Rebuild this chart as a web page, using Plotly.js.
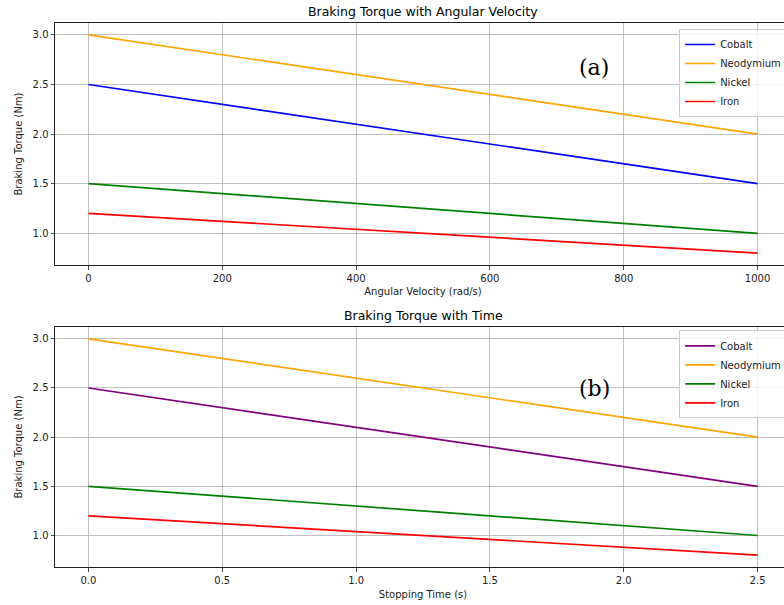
<!DOCTYPE html>
<html><head><meta charset="utf-8">
<script src="https://cdn.plot.ly/plotly-3.0.1.min.js"></script>
<style>html,body{margin:0;padding:0;overflow:hidden;background:#fff;}#chart{width:800px;height:605px;}</style>
</head><body><div id="chart"></div>
<script>
const angularVelocity = [0, 200, 400, 600, 800, 1000];
const stoppingTime = [0, 0.5, 1.0, 1.5, 2.0, 2.5];
const cobalt = [2.5, 2.3, 2.1, 1.9, 1.7, 1.5];
const neodymium = [3.0, 2.8, 2.6, 2.4, 2.2, 2.0];
const nickel = [1.5, 1.4, 1.3, 1.2, 1.1, 1.0];
const iron = [1.2, 1.12, 1.04, 0.96, 0.88, 0.8];
const seriesNames = ['Cobalt', 'Neodymium', 'Nickel', 'Iron'];
const topColors = ['#0000ff', '#ffa500', '#008000', '#ff0000'];
const bottomColors = ['#800080', '#ffa500', '#008000', '#ff0000'];
const seriesValues = [cobalt, neodymium, nickel, iron];

const FONT = 'DejaVu Sans, sans-serif';
const traces = [];
seriesValues.forEach((vals, i) => {
  traces.push({x: angularVelocity, y: vals, name: seriesNames[i], type: 'scatter', mode: 'lines',
    line: {color: topColors[i], width: 1.7}, xaxis: 'x', yaxis: 'y', legend: 'legend'});
});
seriesValues.forEach((vals, i) => {
  traces.push({x: stoppingTime, y: vals, name: seriesNames[i], type: 'scatter', mode: 'lines',
    line: {color: bottomColors[i], width: 1.7}, xaxis: 'x2', yaxis: 'y2', legend: 'legend2'});
});

const axCommon = {
  showline: true, linecolor: '#222', linewidth: 1, mirror: true,
  showgrid: true, gridcolor: '#b0b0b0', gridwidth: 0.8,
  ticks: 'outside', ticklen: 3.5, tickcolor: '#222', tickwidth: 0.8,
  zeroline: false, tickfont: {family: FONT, size: 10, color: '#222'}
};
const legendCommon = {
  xanchor: 'left', yanchor: 'top', bgcolor: 'rgba(255,255,255,0.8)',
  bordercolor: '#cccccc', borderwidth: 1, font: {family: FONT, size: 10, color: '#222'},
  itemwidth: 30, tracegroupgap: 0
};
const layout = {
  width: 800, height: 605,
  margin: {l: 55, r: 8.5, t: 23, b: 38},
  paper_bgcolor: '#fff', plot_bgcolor: '#fff',
  showlegend: true,
  font: {family: FONT, color: '#222'},
  xaxis: Object.assign({}, axCommon, {domain: [0, 1], range: [-50, 1050], tickvals: [0, 200, 400, 600, 800, 1000], anchor: 'y',
    title: {text: 'Angular Velocity (rad/s)', font: {family: FONT, size: 10, color: '#222'}, standoff: 5}}),
  yaxis: Object.assign({}, axCommon, {domain: [0.5551, 1], range: [0.68, 3.12], tickvals: [1.0, 1.5, 2.0, 2.5, 3.0], ticktext: ['1.0','1.5','2.0','2.5','3.0'], anchor: 'x',
    title: {text: 'Braking Torque (Nm)', font: {family: FONT, size: 10, color: '#222'}, standoff: 8}}),
  xaxis2: Object.assign({}, axCommon, {domain: [0, 1], range: [-0.125, 2.625], tickvals: [0, 0.5, 1.0, 1.5, 2.0, 2.5], ticktext: ['0.0','0.5','1.0','1.5','2.0','2.5'], anchor: 'y2',
    title: {text: 'Stopping Time (s)', font: {family: FONT, size: 10, color: '#222'}, standoff: 6}}),
  yaxis2: Object.assign({}, axCommon, {domain: [0, 0.4412], range: [0.68, 3.12], tickvals: [1.0, 1.5, 2.0, 2.5, 3.0], ticktext: ['1.0','1.5','2.0','2.5','3.0'], anchor: 'x2',
    title: {text: 'Braking Torque (Nm)', font: {family: FONT, size: 10, color: '#222'}, standoff: 8}}),
  legend: Object.assign({}, legendCommon, {x: 0.848, y: 0.989}),
  legend2: Object.assign({}, legendCommon, {x: 0.848, y: 0.435}),
  annotations: [
    {text: 'Braking Torque with Angular Velocity', xref: 'paper', yref: 'paper', x: 0.5, y: 1, yshift: 2,
      xanchor: 'center', yanchor: 'bottom', showarrow: false, font: {family: FONT, size: 12.5, color: '#000'}},
    {text: 'Braking Torque with Time', xref: 'paper', yref: 'paper', x: 0.5, y: 0.4412, yshift: 2,
      xanchor: 'center', yanchor: 'bottom', showarrow: false, font: {family: FONT, size: 12.5, color: '#000'}},
    {text: '(a)', xref: 'paper', yref: 'paper', x: 0.7329, y: 0.919, xanchor: 'center', yanchor: 'middle',
      showarrow: false, font: {family: 'DejaVu Serif, Liberation Serif, serif', size: 22, color: '#000'}},
    {text: '(b)', xref: 'paper', yref: 'paper', x: 0.7329, y: 0.329, xanchor: 'center', yanchor: 'middle',
      showarrow: false, font: {family: 'DejaVu Serif, Liberation Serif, serif', size: 22, color: '#000'}}
  ]
};
Plotly.newPlot('chart', traces, layout, {displayModeBar: false, staticPlot: true});
</script></body></html>
